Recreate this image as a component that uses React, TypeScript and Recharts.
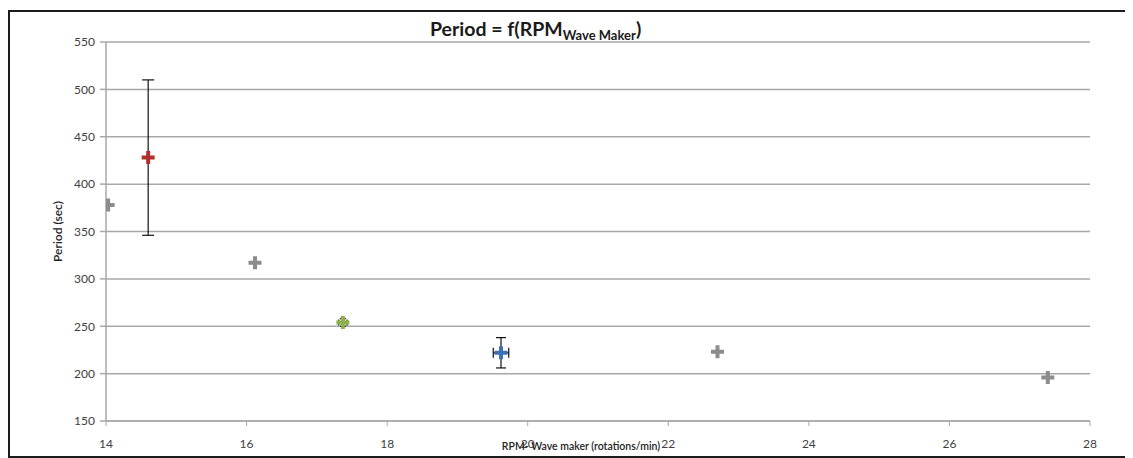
import React from 'react';
import { ScatterChart, Scatter, XAxis, YAxis, CartesianGrid, ErrorBar } from 'recharts';

// Axis ticks
const rpmTicks = [14, 16, 18, 20, 22, 24, 26, 28];
const periodTicks = [150, 200, 250, 300, 350, 400, 450, 500, 550];

// Single measurements (grey)
const greyRpm = [14.03, 16.12, 22.7, 27.4];
const greyPeriod = [378, 317, 223, 196];

// Averaged runs with error bars
const redRpm = [14.6];
const redPeriod = [428];
const redPeriodErr = [82];

const greenRpm = [17.37];
const greenPeriod = [254];
const greenPeriodErr = [4];
const greenRpmErr = [0.06];

const blueRpm = [19.62];
const bluePeriod = [222];
const bluePeriodErr = [16];
const blueRpmErr = [0.11];

const greyData = greyRpm.map((x, i) => ({ x, y: greyPeriod[i] }));
const redData = redRpm.map((x, i) => ({ x, y: redPeriod[i], ey: redPeriodErr[i] }));
const greenData = greenRpm.map((x, i) => ({ x, y: greenPeriod[i], ey: greenPeriodErr[i], ex: greenRpmErr[i] }));
const blueData = blueRpm.map((x, i) => ({ x, y: bluePeriod[i], ey: bluePeriodErr[i], ex: blueRpmErr[i] }));

const FONT = 'Lato, "Open Sans", sans-serif';

const PlusMarker = (props: any) => {
  const { cx, cy, fill } = props;
  if (cx == null || cy == null) return null;
  const s = 6.5;
  const t = 2;
  const d = `M${cx - t},${cy - s}h${2 * t}v${s - t}h${s - t}v${2 * t}h${-(s - t)}v${s - t}h${-2 * t}v${-(s - t)}h${-(s - t)}v${-2 * t}h${s - t}z`;
  return <path d={d} fill={fill} />;
};

export default function App() {
  return (
    <div
      style={{
        position: 'relative',
        marginTop: 2,
        width: 1120,
        height: 444,
        border: '2px solid #1c1c1c',
        background: '#fff',
        fontFamily: FONT,
      }}
    >
      <ScatterChart width={1120} height={444} margin={{ top: 30, right: 40, left: 0, bottom: 0 }}>
        <CartesianGrid horizontal vertical={false} stroke="#a8a8a8" strokeWidth={1.5} />
        <XAxis
          type="number"
          dataKey="x"
          domain={[14, 28]}
          ticks={rpmTicks}
          allowDataOverflow
          height={35}
          tickSize={5}
          tickMargin={13}
          axisLine={{ stroke: '#a8a8a8', strokeWidth: 1.5 }}
          tickLine={{ stroke: '#a8a8a8' }}
          tick={{ fill: '#404040', fontSize: 12, fontFamily: FONT }}
          label={{
            value: 'RPM- Wave maker (rotations/min)',
            position: 'insideBottom',
            offset: 6,
            dx: -17,
            style: { fill: '#222', fontSize: 10.5, fontWeight: 600, fontFamily: FONT },
          }}
        />
        <YAxis
          type="number"
          dataKey="y"
          domain={[150, 550]}
          ticks={periodTicks}
          allowDataOverflow
          width={96}
          tickSize={6}
          tickMargin={5}
          axisLine={{ stroke: '#a8a8a8', strokeWidth: 1.5 }}
          tickLine={{ stroke: '#a8a8a8', strokeWidth: 1.5 }}
          tick={{ fill: '#404040', fontSize: 12, fontFamily: FONT }}
          label={{
            value: 'Period  (sec)',
            angle: -90,
            position: 'center',
            style: { fill: '#222', fontSize: 12, fontWeight: 600, fontFamily: FONT, whiteSpace: 'pre' },
          }}
        />
        <Scatter data={greyData} fill="#8c8c8c" shape={<PlusMarker />} isAnimationActive={false} />
        <Scatter data={redData} fill="#b0302c" shape={<PlusMarker />} isAnimationActive={false}>
          <ErrorBar dataKey="ey" direction="y" width={6} stroke="#111" strokeWidth={1.2} />
        </Scatter>
        <Scatter data={greenData} fill="#8db04a" shape={<PlusMarker />} isAnimationActive={false}>
          <ErrorBar dataKey="ey" direction="y" width={3} stroke="#111" strokeWidth={1.2} />
          <ErrorBar dataKey="ex" direction="x" width={3} stroke="#111" strokeWidth={1.2} />
        </Scatter>
        <Scatter data={blueData} fill="#3f72b5" shape={<PlusMarker />} isAnimationActive={false}>
          <ErrorBar dataKey="ey" direction="y" width={5} stroke="#111" strokeWidth={1.2} />
          <ErrorBar dataKey="ex" direction="x" width={5} stroke="#111" strokeWidth={1.2} />
        </Scatter>
      </ScatterChart>
      <div
        style={{
          position: 'absolute',
          left: 420,
          top: 7,
          fontSize: 19.5,
          fontWeight: 700,
          color: '#1a1a1a',
          lineHeight: 1,
          whiteSpace: 'nowrap',
          fontFamily: FONT,
        }}
      >
        Period = f(RPM<sub style={{ fontSize: 13, verticalAlign: '-4px' }}>Wave Maker</sub>)
      </div>
    </div>
  );
}
